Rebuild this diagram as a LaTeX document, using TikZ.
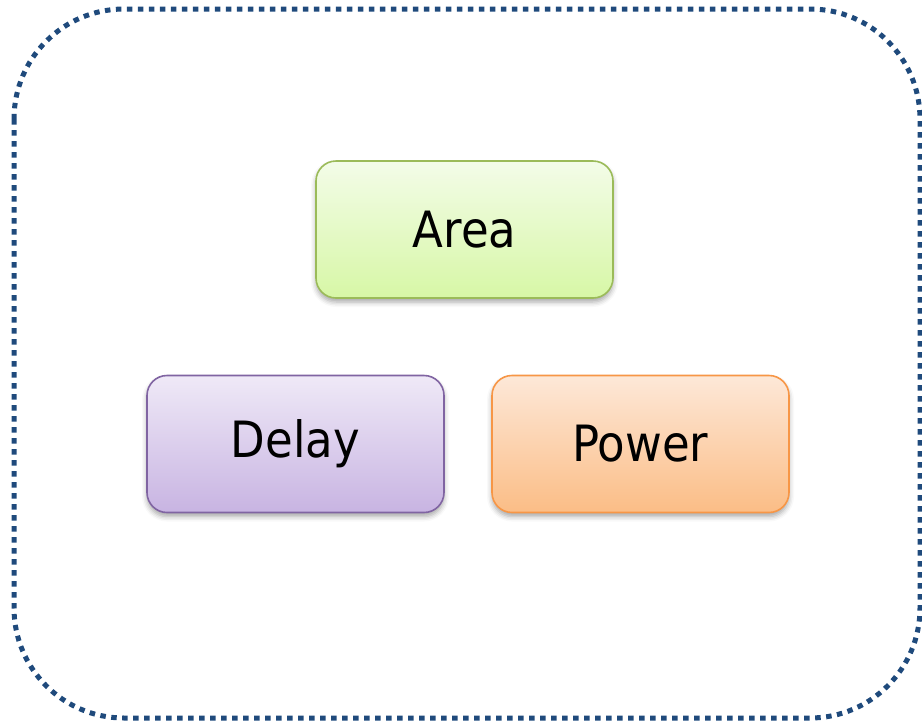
\documentclass[tikz,border=0pt]{standalone}
\usepackage{fontspec}
\usetikzlibrary{shadows.blur}
\newfontfamily\boxfont{DejaVu Sans Condensed}
\definecolor{frameblue}{HTML}{1F4A7C}
\definecolor{areaedge}{HTML}{9BBB59}
\definecolor{areatop}{HTML}{F3FCE8}
\definecolor{areabot}{HTML}{D7F7A6}
\definecolor{delayedge}{HTML}{8064A2}
\definecolor{delaytop}{HTML}{EFE9F7}
\definecolor{delaybot}{HTML}{C8B4E2}
\definecolor{poweredge}{HTML}{F79646}
\definecolor{powertop}{HTML}{FDE8D8}
\definecolor{powerbot}{HTML}{FBBD86}
\tikzset{
  metric/.style={rectangle, rounded corners=20pt, line width=1.6pt,
    minimum width=297pt, minimum height=137pt, inner sep=0pt,
    font=\boxfont\fontsize{50}{58}\selectfont, text=black,
    blur shadow={shadow xshift=0pt, shadow yshift=-4pt,
      shadow blur radius=5pt, shadow opacity=35}},
  frame/.style={draw=frameblue, line width=5pt, dash pattern=on 5.5pt off 5.5pt,
    rounded corners=110pt}
}
\begin{document}
\begin{tikzpicture}[x=1pt, y=-1pt]
  \useasboundingbox (0,0) rectangle (922,721);
  % dotted outer frame
  \draw[frame] (14,9) rectangle (920,718);
  % the three metric boxes
  \node[metric, draw=areaedge, top color=areatop, bottom color=areabot]
    (area) at (464.5,229.5) {\raisebox{-2pt}{Area}};
  \node[metric, draw=delayedge, top color=delaytop, bottom color=delaybot]
    (delay) at (295.5,444) {\raisebox{-2pt}{Delay}};
  \node[metric, draw=poweredge, top color=powertop, bottom color=powerbot]
    (power) at (640.5,444) {\raisebox{-2pt}{Power}};
\end{tikzpicture}
\end{document}
